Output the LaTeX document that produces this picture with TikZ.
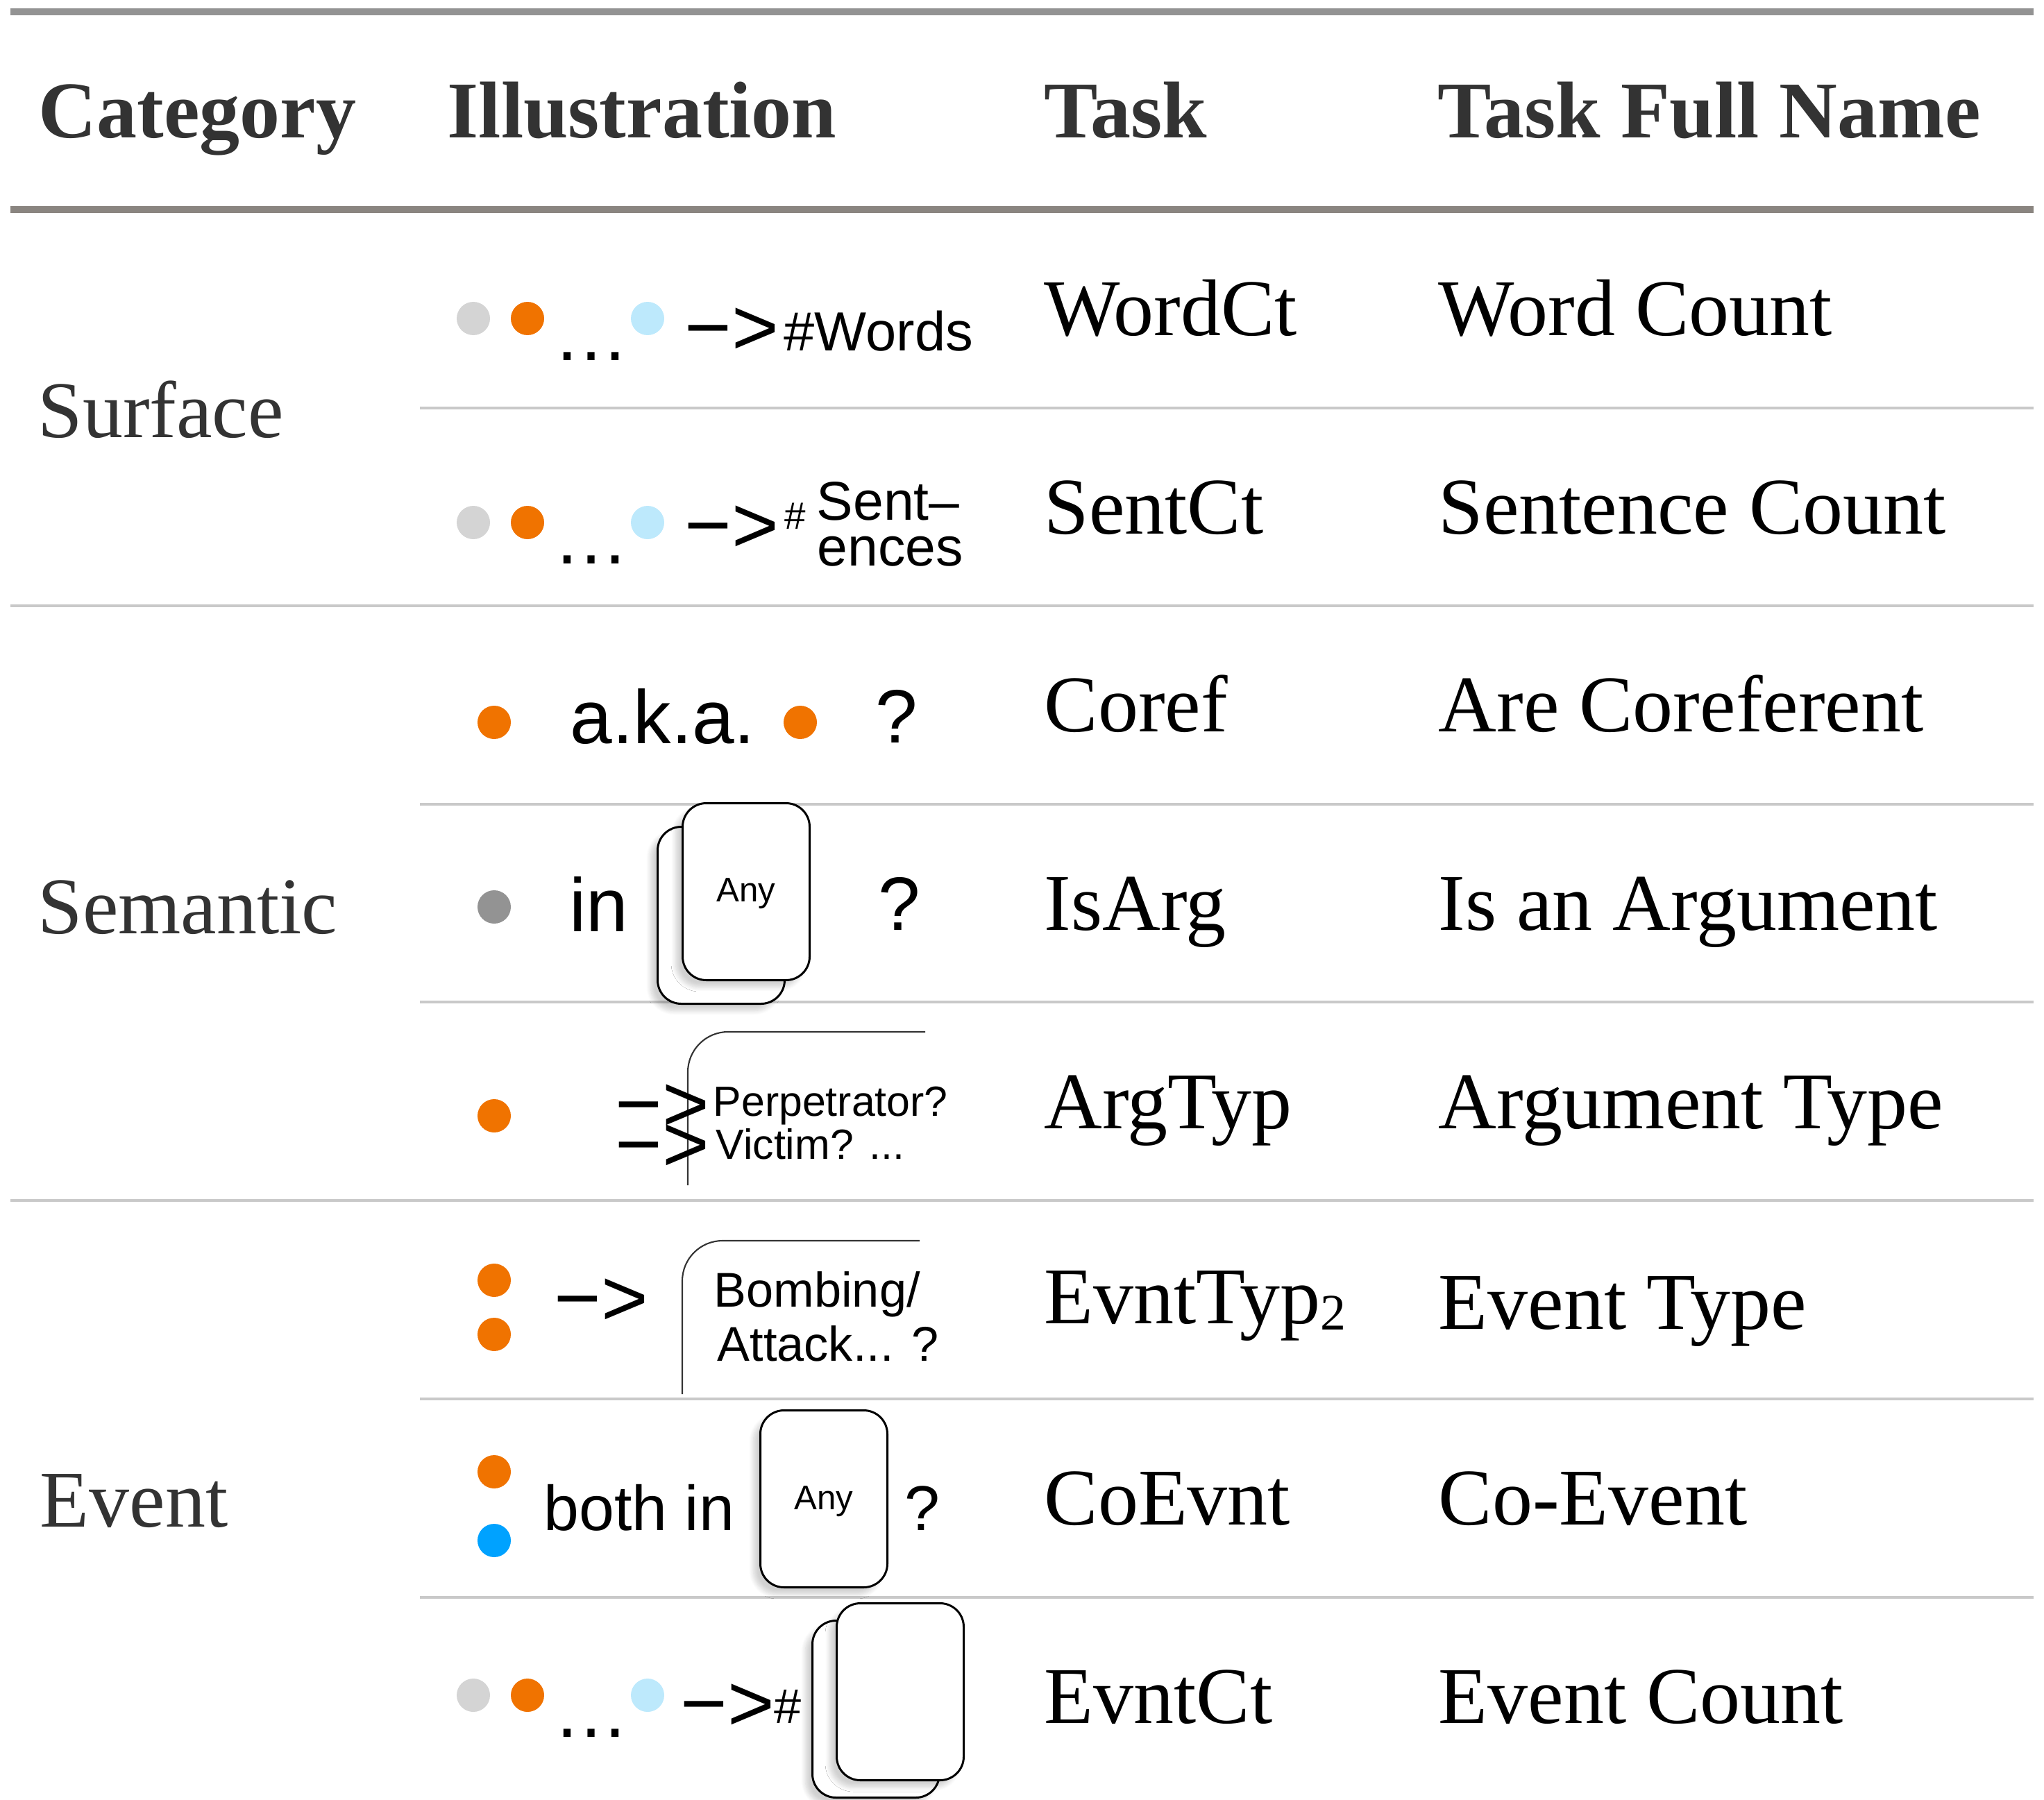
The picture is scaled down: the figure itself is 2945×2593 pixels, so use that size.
\documentclass[tikz,border=0pt]{standalone}
\usepackage{fontspec}
\setmainfont{Liberation Serif}
\newfontfamily\illfont{Liberation Sans}
\usepackage{tikz}
\usetikzlibrary{shapes, positioning, shadows.blur}

\definecolor{topgray}{HTML}{939393}
\definecolor{midgray}{HTML}{8A8580}
\definecolor{linegray}{HTML}{C9C9C9}
\definecolor{txtgray}{HTML}{333333}
\definecolor{dlight}{HTML}{D4D4D4}
\definecolor{dorange}{HTML}{F07300}
\definecolor{dsky}{HTML}{BDE9FC}
\definecolor{dgray}{HTML}{939393}
\definecolor{dblue}{HTML}{00A2FF}

\tikzstyle{head} = [anchor=base west, inner sep=0pt, text=txtgray, font=\fontsize{33}{33}\selectfont\bfseries]
\tikzstyle{cat} = [anchor=base west, inner sep=0pt, text=txtgray, font=\fontsize{33}{33}\selectfont]
\tikzstyle{task} = [anchor=base west, inner sep=0pt, text=black, font=\fontsize{33}{33}\selectfont]
\tikzstyle{dot} = [circle, inner sep=0pt, minimum size=4.8mm]
\tikzstyle{card} = [rectangle, draw, line width=0.85pt, fill=white, rounded corners=3.4mm, inner sep=0pt, minimum width=18.3mm, minimum height=25.5mm, blur shadow={shadow xshift=-1mm, shadow yshift=-1mm, shadow blur steps=8, shadow opacity=18}]
\tikzstyle{opencard} = [draw=txtgray, line width=0.6pt, rounded corners=5.8mm]
\tikzstyle{toprule} = [draw=topgray, line width=1mm]
\tikzstyle{midrule} = [draw=midgray, line width=1mm]
\tikzstyle{line} = [draw=linegray, line width=0.45mm]
\tikzset{ill/.style={anchor=base west, inner sep=0pt, font=\illfont\fontsize{#1}{#1}\selectfont}}

\begin{document}
\begin{tikzpicture}[x=0.1mm, y=-0.1mm]
			\useasboundingbox (0,0) rectangle (2945,2593);

			% rules
			\path [toprule] (15,17) -- (2930,17);
			\path [midrule] (15,302) -- (2930,302);
			\path [line] (605,588) -- (2930,588);
			\path [line] (15,873) -- (2930,873);
			\path [line] (605,1159) -- (2930,1159);
			\path [line] (605,1444) -- (2930,1444);
			\path [line] (15,1730) -- (2930,1730);
			\path [line] (605,2016) -- (2930,2016);
			\path [line] (605,2302) -- (2930,2302);

			% header
			\node [head] (hcat) at (55,199) {Category};
			\node [head] (hill) at (644,199) {Illustration};
			\node [head] (htask) at (1504,199) {Task};
			\node [head] (hfull) at (2071,199) {Task Full Name};

			% categories
			\node [cat] (surface) at (54,630) {Surface};
			\node [cat] (semantic) at (54,1345) {Semantic};
			\node [cat] (event) at (57,2200) {Event};

			% tasks
			\node [task] (t1) at (1504,483) {WordCt};
			\node [task] (t2) at (1504,769) {SentCt};
			\node [task] (t3) at (1504,1054) {Coref};
			\node [task] (t4) at (1504,1340) {IsArg};
			\node [task] (t5) at (1504,1626) {ArgTyp};
			\node [task] (t6) at (1504,1907) {EvntTyp\raisebox{-2.6pt}{\fontsize{21}{21}\selectfont 2}};
			\node [task] (t7) at (1504,2197) {CoEvnt};
			\node [task] (t8) at (1504,2483) {EvntCt};

			\node [task] (f1) at (2072,483) {Word Count};
			\node [task] (f2) at (2072,769) {Sentence Count};
			\node [task] (f3) at (2072,1054) {Are Coreferent};
			\node [task] (f4) at (2072,1340) {Is an Argument};
			\node [task] (f5) at (2072,1626) {Argument Type};
			\node [task] (f6) at (2072,1915) {Event Type};
			\node [task] (f7) at (2072,2197) {Co-Event};
			\node [task] (f8) at (2072,2483) {Event Count};

			% row 1: word count
			\node [dot, fill=dlight] (w1) at (682,459) {};
			\node [dot, fill=dorange] (w2) at (760,459) {};
			\node [dot, fill=dsky] (w3) at (933,459) {};
			\node [ill=31] (wdots) at (797,519) {…};
			\node [ill=33] (warr) at (986,511) {−>};
			\node [ill=22.6] (wwords) at (1129,505) {\#Words};

			% row 2: sentence count
			\node [dot, fill=dlight] (s1) at (682,753) {};
			\node [dot, fill=dorange] (s2) at (760,753) {};
			\node [dot, fill=dsky] (s3) at (933,753) {};
			\node [ill=31] (sdots) at (797,812) {…};
			\node [ill=33] (sarr) at (986,796) {−>};
			\node [ill=15.6] (shash) at (1130,762) {\#};
			\node [ill=22.4] (sent) at (1176,749) {Sent–};
			\node [ill=22.4] (ences) at (1177,815) {ences};

			% row 3: coreference
			\node [dot, fill=dorange] (c1) at (712,1041) {};
			\node [ill=31] (aka) at (821,1071) {a.k.a.};
			\node [dot, fill=dorange] (c2) at (1153,1041) {};
			\node [ill=31] (cq) at (1261,1070) {?};

			% row 4: is argument
			\node [dot, fill=dgray] (a1) at (712,1307) {};
			\node [ill=31] (ain) at (820,1342) {in};
			\node [card] (aback) at (1039,1319) {};
			\node [card] (afront) at (1075,1285) {};
			\node [ill=14, anchor=base] (aany) at (1075,1299) {Any};
			\node [ill=31] (aq) at (1265,1340) {?};

			% row 5: argument type
			\node [dot, fill=dorange] (r1) at (712,1608) {};
			\path [opencard] (991,1708) -- (991,1487) -- (1333,1487);
			\node [ill=33] (rarr1) at (886,1630) {−>};
			\node [ill=33] (rarr2) at (886,1688) {−>};
			\node [ill=17.3] (perp) at (1027,1608) {Perpetrator?};
			\node [ill=17.3] (vict) at (1031,1670) {Victim? ...};

			% row 6: event type
			\node [dot, fill=dorange] (e1) at (712,1845) {};
			\node [dot, fill=dorange] (e2) at (712,1923) {};
			\node [ill=33] (earr) at (798,1910) {−>};
			\path [opencard] (983,2009) -- (983,1788) -- (1325,1788);
			\node [ill=20] (bomb) at (1028,1883) {Bombing/};
			\node [ill=20] (att) at (1033,1961) {Attack... ?};

			% row 7: co-event
			\node [dot, fill=dorange] (o1) at (712,2121) {};
			\node [dot, fill=dblue] (o2) at (712,2220) {};
			\node [ill=26] (both) at (783,2205) {both in};
			\node [card] (ocard) at (1187,2160) {};
			\node [ill=14, anchor=base] (oany) at (1187,2175) {Any};
			\node [ill=26] (oq) at (1303,2205) {?};

			% row 8: event count
			\node [dot, fill=dlight] (n1) at (682,2443) {};
			\node [dot, fill=dorange] (n2) at (760,2443) {};
			\node [dot, fill=dsky] (n3) at (933,2443) {};
			\node [ill=31] (ndots) at (797,2503) {…};
			\node [ill=33] (narr) at (980,2494) {−>};
			\node [ill=20] (nhash) at (1115,2483) {\#};
			\node [card] (nback) at (1262,2463) {};
			\node [card] (nfront) at (1297,2438) {};
		\end{tikzpicture}
\end{document}
